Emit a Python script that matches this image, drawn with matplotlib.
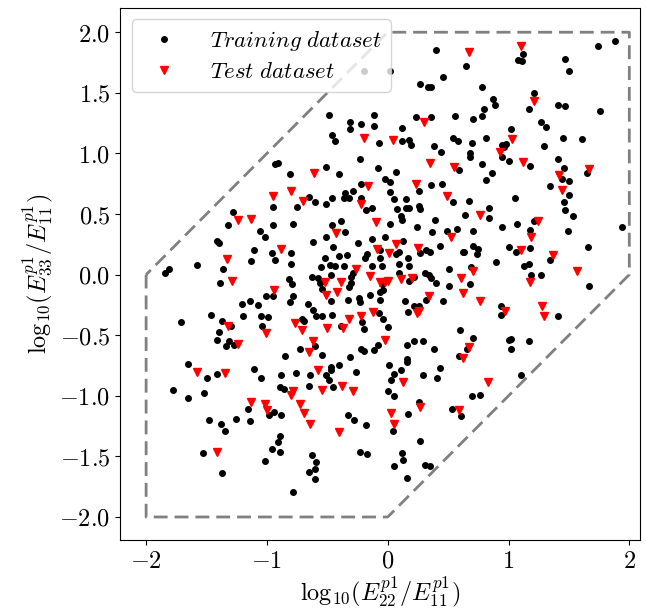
import numpy as np
import matplotlib.pyplot as plt

plt.rcParams['mathtext.fontset'] = 'cm'
plt.rcParams['font.family'] = ['DejaVu Serif']

# Trainingsdaten (log10 E22/E11, log10 E33/E11)
train_x = [0.40, 0.02, -0.20, 0.46, 0.27, 0.33, 0.36, -0.49, -0.31, -0.31, -0.22, -0.11, -0.11, 0.23, 0.36, 0.56,
           0.12, -0.46, -0.44, -0.07, 0.12, 0.18, 0.19, 0.38, 0.44, 0.54, 0.58, -0.23, 0.59, -0.51, -0.40, -0.08,
           0.07, -0.02, 0.02, -0.22, 0.36, 0.45, -0.81, 0.65, -0.93, -0.91,
           1.12, 1.08, 1.11, 1.74, 1.88, 1.47, 1.50, 0.78, 1.21, 0.87, 0.89, 0.80, 0.78, 0.71, 1.17, 1.41, 1.47,
           1.76, 1.27, 1.31, 1.02, 0.81, 0.70, 0.95, 0.98, 0.96, 0.68, 0.68, 0.95, 1.00, 1.45, 1.61, 1.29, 1.18,
           1.41, 1.46, 1.44, 1.50, 1.65, 0.78, 0.86, 0.81, 1.34,
           -0.95, -1.28, -1.32, -0.95, -0.78, -1.06, -1.02, -1.41, -1.40, -1.11, -0.96, -0.93, -0.80, -1.13,
           -0.80, -1.81, -1.84, -1.58, -1.36, -1.39, -0.82, -0.79, -1.01, -0.95, -0.78, -1.14, -1.21, -1.07,
           -0.81, -1.46, -1.20, -1.05, -0.99, -1.71, -1.37, -1.30, -1.04, -1.40, -1.41, -1.31, -1.27, -1.34, -0.85,
           -0.65, -0.60, -0.75, -0.51, -0.46, -0.35, -0.29, -0.36, -0.32, -0.22, -0.18, -0.13, 0.02, 0.05, 0.15,
           0.26, 0.26, 0.27, 0.15, 0.18, 0.08, 0.54,
           -0.39, -0.46, -0.35, -0.51, -0.62, -0.45, -0.25, -0.13, -0.02, 0.02, 0.11, 0.12, 0.24, 0.39, 0.37,
           0.49, 0.57, 0.13, -0.06, -0.06, 0.09, 0.07, 0.27, 0.32, 0.35, 0.43, 0.62, -0.17, -0.19, -0.34, -0.40,
           -0.52,
           -0.48, -0.44, -0.36, -0.55, -0.13, -0.05, 0.09, 0.17, 0.18, 0.51, -0.63, -0.58, -0.56, -0.47, -0.29,
           -0.30, -0.05, 0.09, 0.22, 0.18, 0.31, 0.34, 0.36, 0.40, 0.51, -0.54, -0.32, -0.30, -0.06, -0.04, -0.15,
           -0.47, -0.33, -0.24, -0.23, -0.06, 0.14, 0.32, 0.46, 0.22, 0.26, 0.17, -0.66, -0.62, -0.59, -0.54,
           -0.46, -0.21, -0.20, -0.07, -0.04, 0.00, -0.71, -0.69, -0.39, 0.60,
           -0.60, -0.73, -0.54, -0.31, -0.22, -0.20, -0.11, -0.08, 0.16, 0.22, 0.29, 0.38, 0.16, 0.59,
           1.50, 1.46, 1.47, 1.53, 0.67, 0.84, 0.84, 0.64, 1.05, 1.07, 0.95, 1.21, 1.18, 1.49, 1.94, 0.71, 0.71,
           0.75, 0.74, 0.63, 1.00, 1.06, 1.18, 1.66, 1.34, 0.90, 1.13, 1.17, 1.19, 1.27, 1.67, 0.69, 0.68, 0.94,
           0.94, 1.41, 0.71, 1.00, 1.02, 1.02, 1.17, 0.66,
           -1.65, -1.50, -1.41, -1.78, -1.65, -1.52, -1.11, -1.05, -0.88, -0.76, -0.89, -0.86, -1.16, -0.94,
           -0.98, -0.88, -1.48, -1.38, -1.35, -1.26, -1.14, -0.89, -0.91, -0.96, -0.89, -1.53, -1.02, -1.37, -0.78,
           -0.64, -0.47, -0.47, -0.40, -0.51, -0.49, -0.26, -0.65, -0.45, -0.33, -0.28, -0.18, 0.01, 0.05, 0.03,
           0.11, 0.16, 0.00, 0.05, 0.29, 0.43, 0.41, 0.26, 0.17, 0.04, 0.53, 0.61, 0.27, -0.23, -0.17, 0.12, 0.13,
           0.05, 0.31, 0.35, 0.16, -0.63, -0.59, -0.60, -0.65, -0.60,
           1.10, 0.70, 0.76]
train_y = [1.85, 1.68, 1.68, 1.63, 1.57, 1.55, 1.55, 1.32, 1.26, 1.20, 1.24, 1.32, 1.23, 1.30, 1.30, 1.31,
           1.21, 1.15, 1.10, 1.09, 1.10, 1.11, 1.07, 1.06, 1.01, 1.13, 1.10, 0.95, 0.86, 0.89, 0.83, 0.88,
           0.85, 0.79, 0.76, 0.75, 0.74, 0.75, 0.83, 1.72, 0.91, 0.92,
           1.82, 1.77, 1.76, 1.89, 1.93, 1.78, 1.68, 1.55, 1.50, 1.45, 1.40, 1.37, 1.31, 1.28, 1.37, 1.40, 1.39,
           1.35, 1.26, 1.22, 1.20, 1.13, 1.09, 1.07, 1.08, 1.05, 1.00, 0.97, 0.97, 0.94, 1.13, 1.12, 1.06, 0.90,
           0.95, 0.88, 0.79, 0.77, 0.84, 0.91, 0.84, 0.78, 0.73,
           0.56, 0.52, 0.41, 0.41, 0.42, 0.36, 0.31, 0.28, 0.26, 0.20, 0.18, 0.12, 0.18, 0.11,
           0.09, 0.05, 0.01, 0.08, 0.05, -0.07, -0.04, -0.08, -0.18, -0.18, -0.18, -0.22, -0.24, -0.25,
           -0.23, -0.33, -0.34, -0.34, -0.35, -0.39, -0.38, -0.42, -0.42, -0.47, -0.54, -0.55, -0.58, -0.59, -0.67,
           0.64, 0.60, 0.56, 0.58, 0.63, 0.67, 0.69, 0.63, 0.63, 0.63, 0.53, 0.55, 0.68, 0.62, 0.62,
           0.69, 0.57, 0.54, 0.55, 0.55, 0.54, 0.60,
           0.44, 0.41, 0.35, 0.31, 0.27, 0.23, 0.26, 0.29, 0.31, 0.42, 0.48, 0.45, 0.39, 0.45, 0.35,
           0.36, 0.38, 0.28, 0.20, 0.14, 0.19, 0.17, 0.18, 0.20, 0.19, 0.24, 0.19, 0.17, 0.14, 0.16, 0.15,
           0.14,
           0.08, 0.07, 0.07, 0.06, 0.07, 0.07, 0.09, 0.14, 0.07, 0.05, -0.02, -0.03, -0.07, 0.00, 0.01,
           -0.02, -0.08, 0.01, -0.02, -0.05, 0.01, 0.00, -0.03, -0.07, -0.09, -0.12, -0.10, -0.07, -0.14, -0.13, -0.17,
           -0.22, -0.21, -0.19, -0.23, -0.21, -0.22, -0.21, -0.22, -0.26, -0.26, -0.31, -0.24, -0.29, -0.34, -0.34,
           -0.33, -0.39, -0.45, -0.32, -0.37, -0.43, -0.37, -0.38, -0.42, -0.46,
           -0.59, -0.61, -0.66, -0.68, -0.61, -0.63, -0.62, -0.58, -0.58, -0.55, -0.55, -0.61, -0.70, -0.67,
           0.66, 0.60, 0.53, 0.48, 0.61, 0.55, 0.47, 0.49, 0.63, 0.42, 0.39, 0.44, 0.37, 0.36, 0.39, 0.36, 0.24,
           0.21, 0.17, 0.19, 0.23, 0.19, 0.22, 0.23, 0.12, 0.10, 0.07, 0.09, 0.00, 0.00, -0.09, 0.06, -0.08, -0.26,
           -0.33, -0.34, -0.52, -0.54, -0.53, -0.61, -0.55, -0.61,
           -0.74, -0.85, -0.82, -0.95, -1.02, -0.98, -0.78, -0.85, -0.83, -0.81, -0.93, -0.94, -1.11, -1.13,
           -1.16, -1.16, -1.20, -1.23, -1.29, -1.19, -1.21, -1.33, -1.38, -1.44, -1.46, -1.47, -1.54, -1.64, -1.79,
           -0.83, -0.76, -0.79, -0.75, -0.83, -0.87, -0.80, -0.92, -0.93, -1.16, -1.20, -1.24, -0.75, -0.82, -0.87,
           -0.79, -0.72, -0.96, -1.00, -0.83, -0.77, -0.85, -1.05, -1.15, -1.29, -1.11, -1.17, -1.37, -1.46, -1.48, -1.47,
           -1.53, -1.58, -1.57, -1.58, -1.68, -1.49, -1.55, -1.60, -1.63, -1.69,
           -0.83, -1.00, -0.99]

# Testdaten
test_x = [0.30, -0.20, 0.04, 0.35, 0.55, -0.61, -0.16, 0.23, 0.67, 1.10, 1.21, 1.03, 0.93, 1.12, 1.42, 1.67, 1.44,
          -0.95, -0.80, -1.24, -1.13, -0.88, -1.33, -1.29, -0.94, -1.32, -1.01, -0.77, -1.24,
          -0.70, -0.22, 0.49, -0.43, -0.10, 0.52, 0.07, -0.09, 0.01, 0.25, -0.26, -0.52, -0.39, -0.15, -0.06,
          -0.02, 0.00, 0.11, 0.20, 0.61, 0.62, -0.51, -0.42, 0.34, 0.24, 0.26, -0.12, -0.22, -0.32, -0.71, -0.50,
          -0.37, -0.02, -0.62, -0.65, 0.62,
          0.76, 1.24, 1.19, 1.10, 1.37, 1.18, 1.57, 0.71, 0.76, 0.97, 1.28, 1.29, 0.67,
          -1.58, -1.35, -0.80, -0.78, -1.13, -1.02, -1.00, -1.41,
          -0.58, -0.54, -0.38, -0.29, -0.73, -0.69, -0.64, -0.40, 0.13, 0.27, 0.03, 0.05, 0.59, 0.83]
test_y = [1.26, 1.13, 1.11, 0.92, 0.89, 0.84, 0.73, 0.75, 1.84, 1.89, 1.43, 1.12, 1.01, 0.93, 0.82, 0.87, 0.70,
          0.65, 0.69, 0.45, 0.46, 0.21, 0.13, -0.05, -0.13, -0.42, -0.48, -0.40, -0.57,
          0.61, 0.58, 0.65, 0.34, 0.43, 0.31, 0.25, 0.21, 0.18, 0.22, 0.05, -0.06, -0.06, -0.01, -0.06,
          -0.06, -0.05, -0.04, -0.03, -0.03, -0.15, -0.17, -0.14, -0.18, -0.32, -0.30, -0.31, -0.34, -0.37, -0.46, -0.44,
          -0.44, -0.54, -0.55, -0.64, -0.69,
          0.49, 0.44, 0.31, 0.20, 0.16, -0.06, 0.03, 0.03, -0.22, -0.30, -0.26, -0.34, -0.60,
          -0.80, -0.81, -0.99, -0.96, -1.05, -1.07, -1.12, -1.46,
          -0.79, -0.95, -0.92, -0.96, -1.07, -1.14, -1.23, -1.30, -0.89, -1.09, -1.14, -1.23, -1.12, -0.89]

# Grenze des Trainingsbereichs
grenze_x = [-2, -2, 0, 2, 2, 0, -2]
grenze_y = [0, -2, -2, 0, 2, 2, 0]

xticks = [-2, -1, 0, 1, 2]
yticks = [-2.0, -1.5, -1.0, -0.5, 0.0, 0.5, 1.0, 1.5, 2.0]

fs = 17.5

fig = plt.figure(figsize=(6.46, 6.14), dpi=100)
ax = fig.add_axes([0.186, 0.1205, 0.805, 0.8665])

ax.plot(grenze_x, grenze_y, color='gray', linewidth=2, dashes=(5, 2.5))
ax.plot(train_x, train_y, 'o', color='black', markersize=4.0, label=r'$Training\ dataset$')
ax.plot(test_x, test_y, 'v', color='red', markersize=6, label=r'$Test\ dataset$')

ax.set_xlim(-2.215, 2.09)
ax.set_ylim(-2.19, 2.2)
ax.set_xticks(xticks, [rf'${v:g}$' for v in xticks], fontsize=fs)
ax.set_yticks(yticks, [rf'${v:.1f}$' for v in yticks], fontsize=fs)
ax.set_xlabel(r'$\mathrm{log}_{10}(E_{22}^{p1}/E_{11}^{p1})$', fontsize=fs, labelpad=1)
ax.set_ylabel(r'$\mathrm{log}_{10}(E_{33}^{p1}/E_{11}^{p1})$', fontsize=fs, labelpad=3)
ax.legend(loc='upper left', fontsize=16.5, borderaxespad=0.5, handletextpad=1.0,
          borderpad=0.4, labelspacing=0.35)

fig.savefig('out.png', dpi=100)
